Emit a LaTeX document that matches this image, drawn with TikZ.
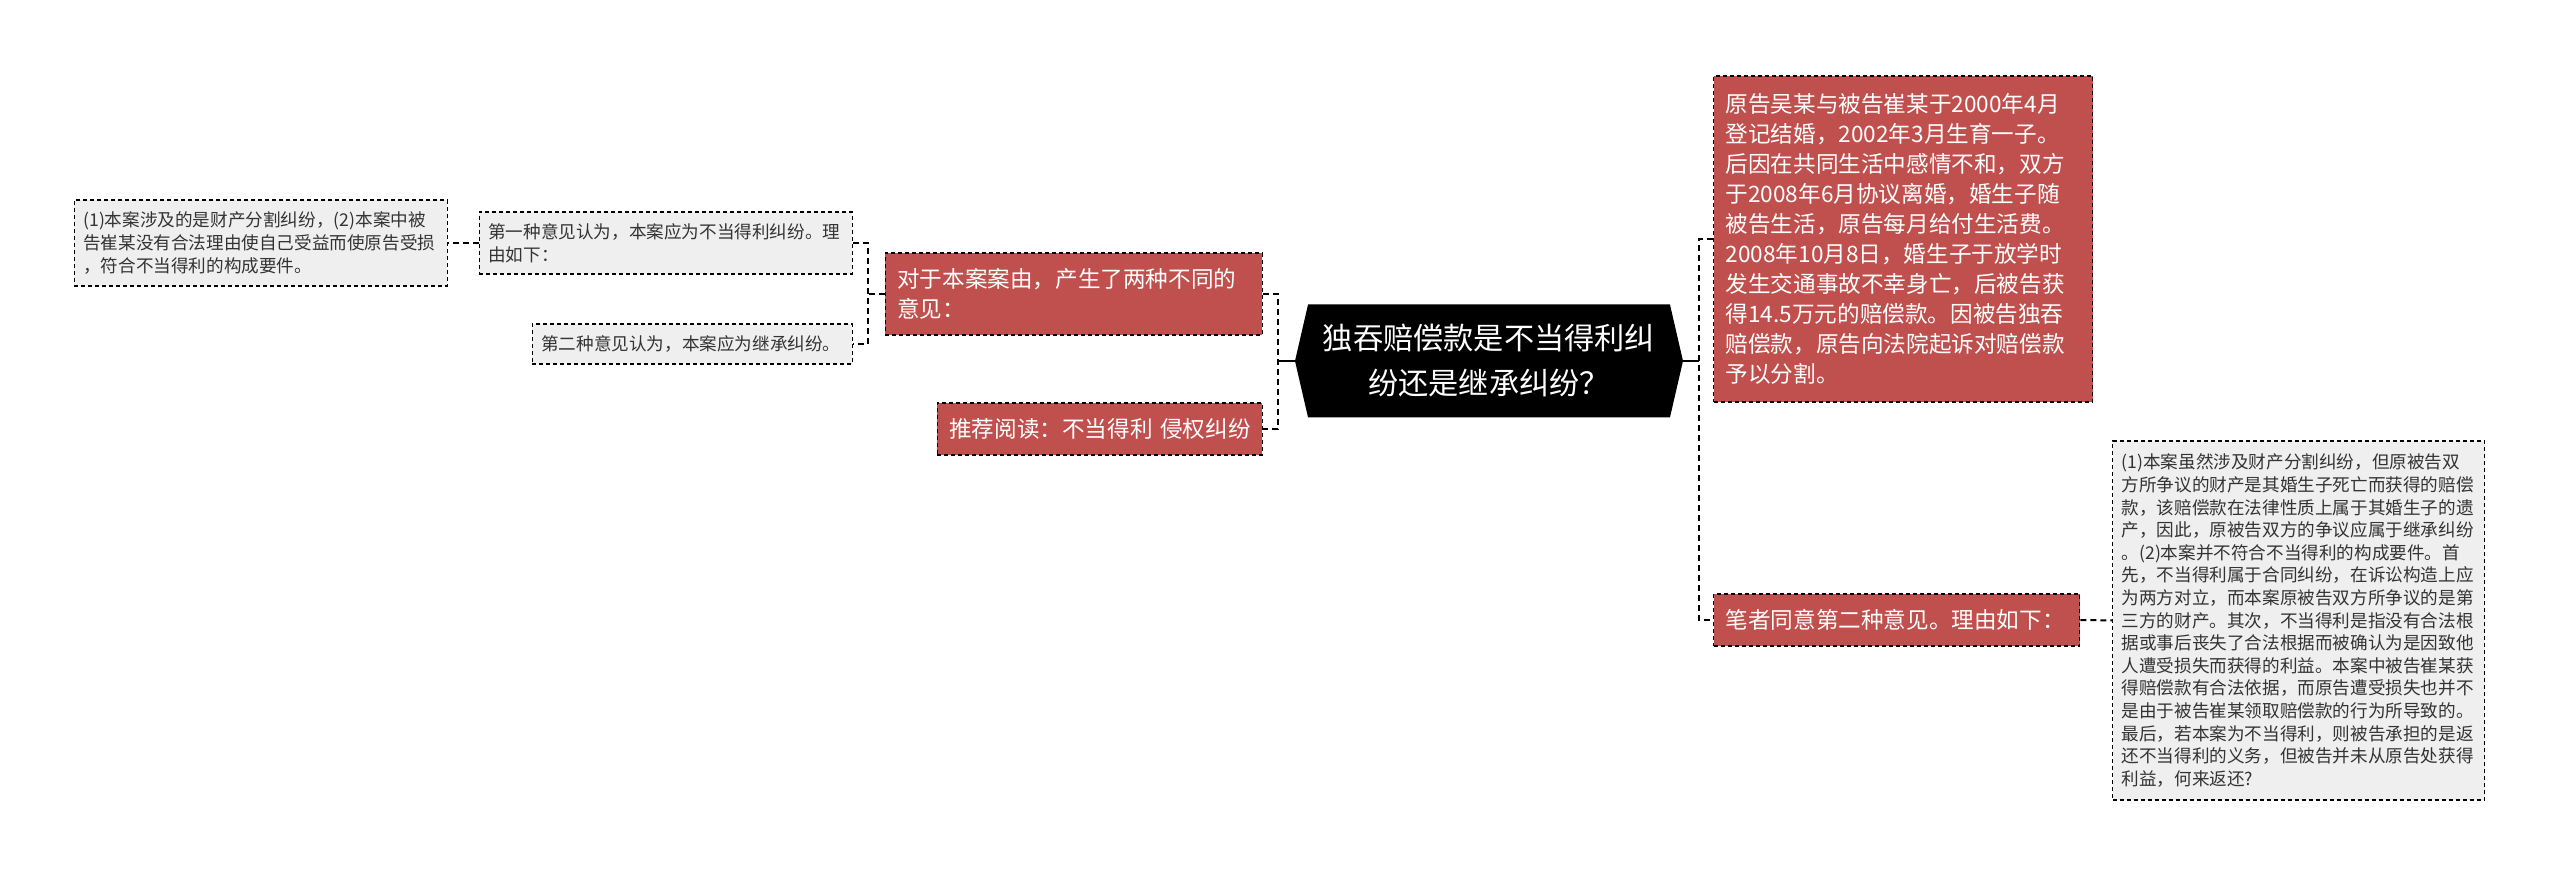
\documentclass[tikz,border=0pt]{standalone}
\usepackage{fontspec}
\setmainfont{Noto Sans CJK SC}
\usepackage{xcolor}
\usepackage{tikz}
\usetikzlibrary{shapes.symbols}
\definecolor{redc}{HTML}{C0504D}
\definecolor{greyc}{HTML}{EFEFEF}
\definecolor{inkc}{HTML}{333333}
\tikzset{
  rootbox/.style={shape=signal,signal to=west and east,signal pointer angle=154,fill=black,text=white,align=center,font=\fontsize{15.1}{22.5}\selectfont,minimum width=194pt,minimum height=56.5pt,inner sep=0pt},
  redbox/.style={draw=black,line width=0.7pt,dash pattern=on 2pt off 1.5pt,fill=redc,text=white,align=left,font=\fontsize{11.3}{15}\selectfont,inner xsep=6pt,inner ysep=3pt},
  greybox/.style={draw=black,line width=0.7pt,dash pattern=on 2pt off 1.5pt,fill=greyc,text=inkc,align=left,font=\fontsize{8.8}{11.3}\selectfont,inner xsep=4.5pt,inner ysep=3pt},
  link/.style={line width=1pt,dash pattern=on 3pt off 2pt},
  stem/.style={line width=1pt}
}

\begin{document}
\begin{tikzpicture}[x=0.5pt,y=-0.5pt]
\useasboundingbox (0,0) rectangle (2560,876);
\node[rootbox] (root) at (1489,361) {独吞赔偿款是不当得利纠\\纷还是继承纠纷？};
% left branch
\node[redbox,anchor=east,text width=176.5pt,minimum height=41pt] (opn) at (1263,294) {对于本案案由，产生了两种不同的\\意见：};
\node[redbox,anchor=east,text width=150.5pt,minimum height=26pt] (read) at (1263,429) {推荐阅读：不当得利~侵权纠纷};
\node[greybox,anchor=east,text width=177.5pt,minimum height=31pt] (first) at (853,243) {第一种意见认为，本案应为不当得利纠纷。理\\由如下：};
\node[greybox,anchor=east,text width=151pt,minimum height=20pt] (second) at (853,344) {第二种意见认为，本案应为继承纠纷。};
\node[greybox,anchor=east,text width=177.5pt,minimum height=43pt] (why1) at (448,243) {(1)本案涉及的是财产分割纠纷，(2)本案中被\\告崔某没有合法理由使自己受益而使原告受损\\，符合不当得利的构成要件。};
% right branch
\node[redbox,anchor=west,text width=177.5pt,minimum height=163pt] (facts) at (1713,239) {原告吴某与被告崔某于2000年4月\\登记结婚，2002年3月生育一子。\\后因在共同生活中感情不和，双方\\于2008年6月协议离婚，婚生子随\\被告生活，原告每月给付生活费。\\2008年10月8日，婚生子于放学时\\发生交通事故不幸身亡，后被告获\\得14.5万元的赔偿款。因被告独吞\\赔偿款，原告向法院起诉对赔偿款\\予以分割。};
\node[redbox,anchor=west,text width=171pt,minimum height=26pt] (view) at (1713,620) {笔者同意第二种意见。理由如下：};
\node[greybox,anchor=west,text width=177pt,minimum height=179.5pt] (why2) at (2112,620.5) {(1)本案虽然涉及财产分割纠纷，但原被告双\\方所争议的财产是其婚生子死亡而获得的赔偿\\款，该赔偿款在法律性质上属于其婚生子的遗\\产，因此，原被告双方的争议应属于继承纠纷\\。(2)本案并不符合不当得利的构成要件。首\\先，不当得利属于合同纠纷，在诉讼构造上应\\为两方对立，而本案原被告双方所争议的是第\\三方的财产。其次，不当得利是指没有合法根\\据或事后丧失了合法根据而被确认为是因致他\\人遭受损失而获得的利益。本案中被告崔某获\\得赔偿款有合法依据，而原告遭受损失也并不\\是由于被告崔某领取赔偿款的行为所导致的。\\最后，若本案为不当得利，则被告承担的是返\\还不当得利的义务，但被告并未从原告处获得\\利益，何来返还?};
% connectors
\coordinate (L) at (1278,361);
\coordinate (R) at (1699,361);
\coordinate (M) at (868,294);
\draw[stem] (root.west) -- (L);
\draw[link] (opn.east) -| (L) |- (read.east);
\draw[stem] (root.east) -- (R);
\draw[link] (facts.west) -| (R) |- (view.west);
\draw[link] (opn.west) -- (M);
\draw[link] (first.east) -| (M) |- (second.east);
\draw[link] (first.west) -- (why1.east);
\draw[link] (view.east) -- (why2.west);
\end{tikzpicture}
\end{document}
